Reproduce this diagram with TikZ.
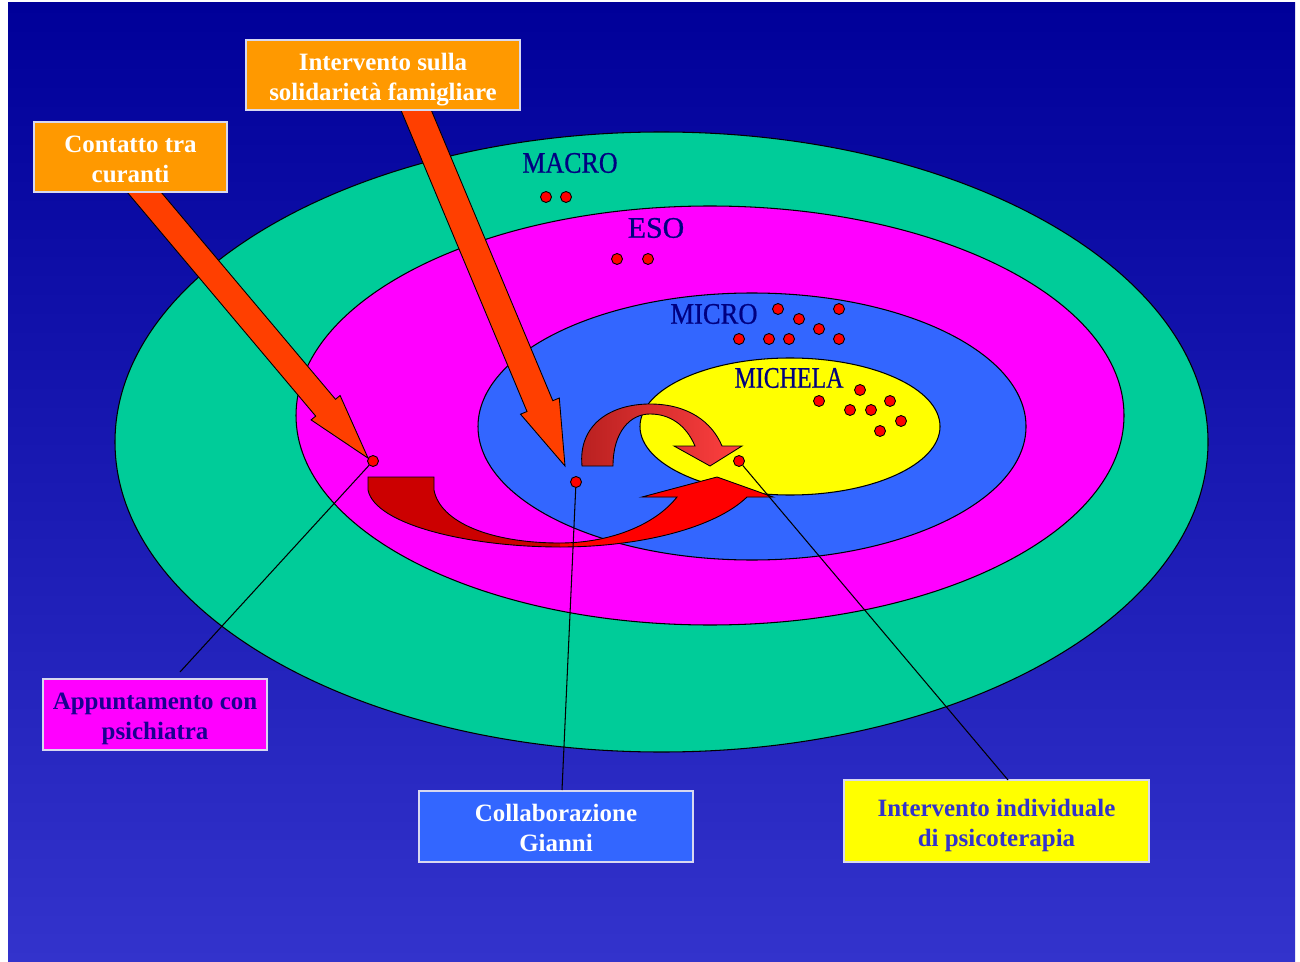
\documentclass[tikz,border=0pt]{standalone}
\usepackage{fontspec}
\setmainfont{Liberation Serif}
\newfontfamily\ringfont[FakeBold=0.7]{Liberation Serif}
\usetikzlibrary{calc}

\definecolor{bgtop}{HTML}{000099}
\definecolor{bgbot}{HTML}{3333CC}
\definecolor{macrocol}{HTML}{00CC99}
\definecolor{esocol}{HTML}{FF00FF}
\definecolor{microcol}{HTML}{3366FF}
\definecolor{michelacol}{HTML}{FFFF00}
\definecolor{labelnavy}{HTML}{000080}
\definecolor{boltcol}{HTML}{FF3F00}
\definecolor{boxorange}{HTML}{FF9900}
\definecolor{boxedge}{HTML}{D8D8F0}
\definecolor{deepred}{HTML}{CC0000}
\definecolor{loopleft}{HTML}{B82020}
\definecolor{loopright}{HTML}{FF4040}
\definecolor{apptext}{HTML}{1A0090}
\definecolor{psytext}{HTML}{3333CC}

% extra room above the first line of a box caption
\newcommand\boxstrut{\rule{0pt}{11.5pt}}

\tikzset{
  ring/.style={draw=black, line width=0.6pt},
  ringlabel/.style={text=labelnavy, font=\ringfont\fontsize{17}{20}\selectfont, inner sep=0pt},
  reddot/.style={circle, draw=black, line width=0.5pt, fill=red, minimum size=0.22cm, inner sep=0pt},
  bolt/.style={draw=black, line width=0.5pt, fill=boltcol},
  leader/.style={draw=black, line width=0.6pt},
  infobox/.style={draw=boxedge, line width=1.1pt, inner sep=0pt, align=center, text depth=0pt,
    font=\bfseries\fontsize{14.2}{17}\selectfont},
}

\begin{document}
\begin{tikzpicture}[x=0.02cm, y=-0.02cm]
  \useasboundingbox (0,0) rectangle (1300,962);
  \fill[white] (0,0) rectangle (1300,962);
  \shade[top color=bgtop, bottom color=bgbot] (8,3) rectangle (1295,962);

  % nested spheres
  \draw[ring, fill=macrocol]   (661.5,442)   ellipse [x radius=546.5, y radius=310];
  \draw[ring, fill=esocol]     (710,415.5)   ellipse [x radius=414,   y radius=209.5];
  \draw[ring, fill=microcol]   (752,426.5)   ellipse [x radius=274,   y radius=133.5];
  \draw[ring, fill=michelacol] (790,426.5)   ellipse [x radius=150,   y radius=68.5];

  % sphere names
  \node[ringlabel] (lmacro)   at (570,163) {\scalebox{0.87}[1]{MACRO}};
  \node[ringlabel] (leso)     at (656,228) {ESO};
  \node[ringlabel] (lmicro)   at (714,314) {\scalebox{0.89}[1]{MICRO}};
  \node[ringlabel] (lmichela) at (789,378) {\scalebox{0.8}[1]{MICHELA}};

  % members of each sphere
  \foreach \px/\py [count=\i] in {546/197, 566/197}
    \node[reddot] (ma\i) at (\px,\py) {};
  \foreach \px/\py [count=\i] in {617/259, 648/259}
    \node[reddot] (es\i) at (\px,\py) {};
  \foreach \px/\py [count=\i] in {778/309, 799/319, 839/309, 819/329, 739/339, 769/339, 789/339, 839/339}
    \node[reddot] (mi\i) at (\px,\py) {};
  \foreach \px/\py [count=\i] in {860/390, 819/401, 890/401, 850/410, 871/410, 901/421, 880/431}
    \node[reddot] (mc\i) at (\px,\py) {};

  % curved arrow sweeping from the family sphere into Michela
  \def\sweep{(368,477) -- (368,490) .. controls (375,525) and (470,547) .. (560,547)
    .. controls (640,547) and (715,528) .. (747,497) -- (773,497) -- (717,477)
    -- (642,497) -- (677,497) .. controls (655,525) and (610,543) .. (560,543)
    .. controls (490,543) and (440,522) .. (434,490) -- (434,477) -- cycle}
  \fill[deepred] \sweep;
  \begin{scope}
    \clip (560,400) rectangle (800,560);
    \fill[red] \sweep;
  \end{scope}
  \draw[black, line width=0.5pt] \sweep;

  % curved arrow looping from the micro sphere down into Michela
  \shade[left color=loopleft, right color=loopright, draw=black, line width=0.5pt]
    (582,466) .. controls (578,425) and (610,404) .. (650,404)
    .. controls (688,404) and (712,422) .. (722,446) -- (742,446) -- (710,466)
    -- (674,446) -- (695,446) .. controls (686,425) and (670,414) .. (650,414)
    .. controls (630,414) and (613,432) .. (613,466) -- cycle;

  % bolt arrows from the intervention boxes
  \draw[bolt] (121.2,185.1) -- (315.7,416.1) -- (311.1,419.9) -- (368.1,458.2)
    -- (340.1,395.5) -- (335.5,399.3) -- (141,168.3) -- cycle;
  \draw[bolt] (395.4,96.9) -- (527,411.5) -- (520.5,414.2) -- (565,466)
    -- (559.3,398) -- (552.8,400.7) -- (421.2,86.1) -- cycle;

  % points of intervention
  \node[reddot] (pA) at (373,461) {};
  \node[reddot] (pB) at (576,482) {};
  \node[reddot] (pC) at (739,461) {};

  % boxes
  \node[infobox, fill=boxorange, text=white, minimum width=3.86cm, minimum height=1.4cm]
    (contatto) at (130.5,157) {\boxstrut Contatto tra\\curanti};
  \node[infobox, fill=boxorange, text=white, minimum width=5.48cm, minimum height=1.4cm]
    (solidarieta) at (383,75) {\boxstrut Intervento sulla\\solidarietà famigliare};
  \node[infobox, fill=esocol, text=apptext, minimum width=4.48cm, minimum height=1.42cm]
    (appuntamento) at (155,714.5) {\boxstrut Appuntamento con\\psichiatra};
  \node[infobox, fill=microcol, text=white, minimum width=5.48cm, minimum height=1.42cm]
    (gianni) at (556,826.5) {\boxstrut Collaborazione\\Gianni};
  \node[infobox, fill=michelacol, text=psytext, minimum width=6.1cm, minimum height=1.64cm]
    (psico) at (996.5,821) {\boxstrut Intervento individuale\\di psicoterapia};

  % leader lines
  \coordinate (eA) at (180,672);
  \coordinate (eB) at (562,790);
  \coordinate (eC) at (1008,780);
  \draw[leader] (pA) -- (eA);
  \draw[leader] (pB) -- (eB);
  \draw[leader] (pC) -- (eC);
\end{tikzpicture}
\end{document}
